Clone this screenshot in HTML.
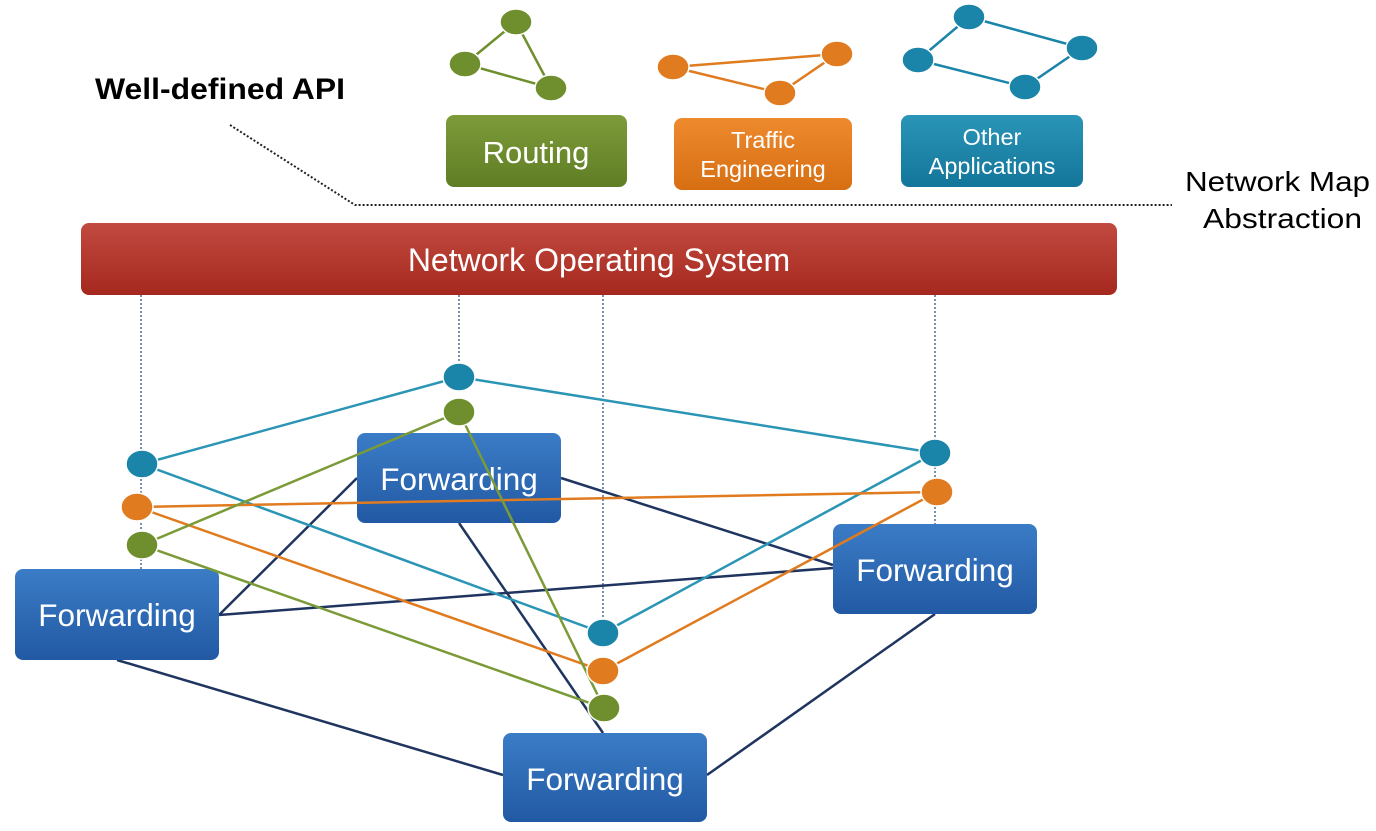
<!DOCTYPE html>
<html><head><meta charset="utf-8"><style>
html,body{margin:0;padding:0;background:#fff;}
svg{display:block;}
text{font-family:"Liberation Sans",sans-serif;}
</style></head><body>
<svg width="1376" height="831" viewBox="0 0 1376 831" xmlns="http://www.w3.org/2000/svg">
<defs>
<linearGradient id="gG" x1="0" y1="0" x2="0" y2="1"><stop offset="0" stop-color="#7e9b3a"/><stop offset="1" stop-color="#5f7d24"/></linearGradient>
<linearGradient id="gO" x1="0" y1="0" x2="0" y2="1"><stop offset="0" stop-color="#ee8a2e"/><stop offset="1" stop-color="#d76e12"/></linearGradient>
<linearGradient id="gT" x1="0" y1="0" x2="0" y2="1"><stop offset="0" stop-color="#2a95b8"/><stop offset="1" stop-color="#13769a"/></linearGradient>
<linearGradient id="gR" x1="0" y1="0" x2="0" y2="1"><stop offset="0" stop-color="#c24a40"/><stop offset="1" stop-color="#a5281e"/></linearGradient>
<linearGradient id="gB" x1="0" y1="0" x2="0" y2="1"><stop offset="0" stop-color="#3b7cc6"/><stop offset="1" stop-color="#2259a4"/></linearGradient>
</defs>

<text x="95" y="99" font-size="30" font-weight="bold" fill="#000" textLength="250" lengthAdjust="spacingAndGlyphs">Well-defined API</text>
<polyline points="230,125 355,205 1172,205" fill="none" stroke="#222" stroke-width="2" stroke-dasharray="2,2"/>
<text x="1185" y="191" font-size="28" fill="#000" textLength="185" lengthAdjust="spacingAndGlyphs">Network Map</text>
<text x="1203" y="228" font-size="28" fill="#000" textLength="159" lengthAdjust="spacingAndGlyphs">Abstraction</text>

<g stroke-width="2.5" fill="none">
<polygon points="516,22 465,64 551,88" stroke="#6f8f2e"/>
<polygon points="673,67 837,54 780,93" stroke="#e07b1f"/>
<polygon points="969,17 1082,48 1025,87 918,60" stroke="#1a85a8"/>
</g>
<g stroke="#fff" stroke-width="1.5">
<ellipse cx="516" cy="22" rx="16" ry="13" fill="#6f8f2e"/><ellipse cx="465" cy="64" rx="16" ry="13" fill="#6f8f2e"/><ellipse cx="551" cy="88" rx="16" ry="13" fill="#6f8f2e"/>
<ellipse cx="673" cy="67" rx="16" ry="13" fill="#e07b1f"/><ellipse cx="837" cy="54" rx="16" ry="13" fill="#e07b1f"/><ellipse cx="780" cy="93" rx="16" ry="13" fill="#e07b1f"/>
<ellipse cx="969" cy="17" rx="16" ry="13" fill="#1a85a8"/><ellipse cx="1082" cy="48" rx="16" ry="13" fill="#1a85a8"/><ellipse cx="1025" cy="87" rx="16" ry="13" fill="#1a85a8"/><ellipse cx="918" cy="60" rx="16" ry="13" fill="#1a85a8"/>
</g>

<rect x="446" y="115" width="181" height="72" rx="8" fill="url(#gG)"/>
<text x="536" y="163" font-size="31" fill="#fff" text-anchor="middle">Routing</text>
<rect x="674" y="118" width="178" height="72" rx="8" fill="url(#gO)"/>
<text x="763" y="148" font-size="23.5" fill="#fff" text-anchor="middle">Traffic</text>
<text x="763" y="177" font-size="23.5" fill="#fff" text-anchor="middle">Engineering</text>
<rect x="901" y="115" width="182" height="72" rx="8" fill="url(#gT)"/>
<text x="992" y="145" font-size="23.5" fill="#fff" text-anchor="middle">Other</text>
<text x="992" y="174" font-size="23.5" fill="#fff" text-anchor="middle">Applications</text>

<rect x="81" y="223" width="1036" height="72" rx="8" fill="url(#gR)"/>
<text x="599" y="271" font-size="32" fill="#fff" text-anchor="middle">Network Operating System</text>

<g stroke="#4a6a9a" stroke-width="1.5" stroke-dasharray="2,2">
<line x1="141" y1="295" x2="141" y2="570"/>
<line x1="459" y1="295" x2="459" y2="365"/>
<line x1="603" y1="295" x2="603" y2="622"/>
<line x1="935" y1="295" x2="935" y2="525"/>
</g>

<g stroke="#1f3560" stroke-width="2.5">
<line x1="219" y1="615" x2="357" y2="478"/>
<line x1="219" y1="615" x2="833" y2="568"/>
<line x1="561" y1="478" x2="833" y2="565"/>
<line x1="459" y1="523" x2="603" y2="733"/>
<line x1="117" y1="660" x2="503" y2="775"/>
<line x1="935" y1="614" x2="707" y2="775"/>
</g>

<rect x="357" y="433" width="204" height="90" rx="8" fill="url(#gB)"/>
<text x="459" y="490" font-size="31.5" fill="#fff" text-anchor="middle">Forwarding</text>
<rect x="833" y="524" width="204" height="90" rx="8" fill="url(#gB)"/>
<text x="935" y="581" font-size="31.5" fill="#fff" text-anchor="middle">Forwarding</text>
<rect x="15" y="569" width="204" height="91" rx="8" fill="url(#gB)"/>
<text x="117" y="626" font-size="31.5" fill="#fff" text-anchor="middle">Forwarding</text>
<rect x="503" y="733" width="204" height="89" rx="8" fill="url(#gB)"/>
<text x="605" y="790" font-size="31.5" fill="#fff" text-anchor="middle">Forwarding</text>

<g stroke-width="2.5" fill="none">
<polygon points="459,377 935,453 603,633 142,464" stroke="#2a95b5"/>
<polygon points="137,507 937,492 603,671" stroke="#e07b1f"/>
<polygon points="459,412 604,708 142,545" stroke="#7b9a38"/>
</g>
<g stroke="#fff" stroke-width="1.5">
<ellipse cx="459" cy="377" rx="16" ry="14" fill="#1a85a8"/><ellipse cx="142" cy="464" rx="16" ry="14" fill="#1a85a8"/><ellipse cx="935" cy="453" rx="16" ry="14" fill="#1a85a8"/><ellipse cx="603" cy="633" rx="16" ry="14" fill="#1a85a8"/>
<ellipse cx="137" cy="507" rx="16" ry="14" fill="#e07b1f"/><ellipse cx="937" cy="492" rx="16" ry="14" fill="#e07b1f"/><ellipse cx="603" cy="671" rx="16" ry="14" fill="#e07b1f"/>
<ellipse cx="459" cy="412" rx="16" ry="14" fill="#6f8f2e"/><ellipse cx="142" cy="545" rx="16" ry="14" fill="#6f8f2e"/><ellipse cx="604" cy="708" rx="16" ry="14" fill="#6f8f2e"/>
</g>
</svg>
</body></html>
